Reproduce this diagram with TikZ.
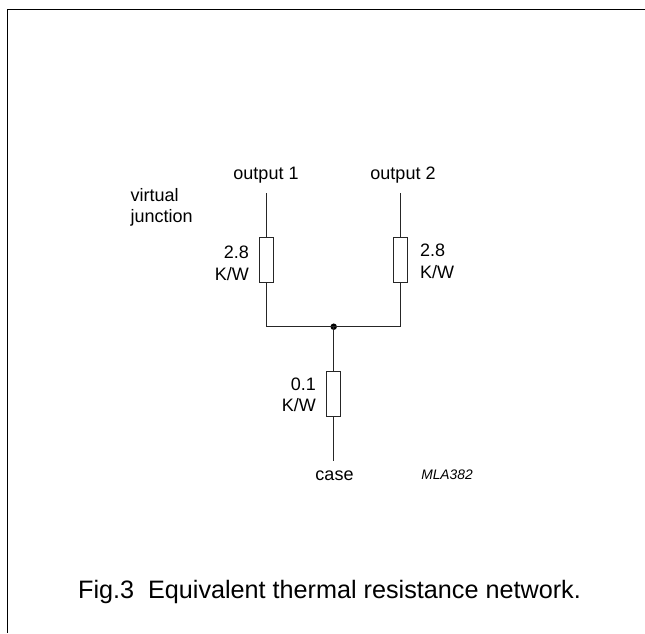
\documentclass[tikz,border=0pt]{standalone}
\usepackage{fontspec}
\setmainfont{Liberation Sans}
\tikzset{
  x=1pt,y=-1pt,
  wire/.style={line width=1.1pt,black!85},
  frameline/.style={line width=1.6pt,black},
  res/.style={draw=black!85,fill=white,line width=1.1pt,minimum width=14pt,minimum height=45pt,inner sep=0pt,outer sep=0pt},
  lab/.style={font=\fontsize{18}{21.5}\selectfont,inner sep=0pt,text=black},
  dotnode/.style={circle,fill=black,minimum size=6.5pt,inner sep=0pt,outer sep=0pt},
}
\begin{document}
\begin{tikzpicture}
\useasboundingbox (0,0) rectangle (645,633);
\coordinate (fa) at (645,9.5);
\coordinate (fb) at (7.5,9.5);
\coordinate (fc) at (7.5,633);
\draw[frameline] (fa) -- (fb) -- (fc);
\node[res] (r1) at (266.7,260) {};
\node[res] (r2) at (400.7,260) {};
\node[res] (r3) at (333.7,394.2) {};
\node[dotnode] (j) at (333.7,326.7) {};
\coordinate (t1) at (266.7,193);
\coordinate (t2) at (400.7,193);
\coordinate (b3) at (333.7,460.7);
\draw[wire] (t1) -- (r1.north);
\draw[wire] (t2) -- (r2.north);
\draw[wire] (r1.south) |- (j.center);
\draw[wire] (r2.south) |- (j.center);
\draw[wire] (j.center) -- (r3.north);
\draw[wire] (r3.south) -- (b3);
\node[lab] (o1) at (266,175) {output 1};
\node[lab] (o2) at (403,175) {output 2};
\node[lab,anchor=west,align=left] (vj) at (130.5,207.5) {virtual\\junction};
\node[lab,anchor=east,align=right] (l1) at (249,263.5) {2.8\\K/W};
\node[lab,anchor=west,align=left] (l2) at (420,261.5) {2.8\\K/W};
\node[lab,anchor=east,align=right] (l3) at (316,395) {0.1\\K/W};
\node[lab] (cs) at (334.5,475.5) {case};
\node[font=\fontsize{13.8}{16}\selectfont\itshape,inner sep=0pt,text=black] (mla) at (447,475) {MLA382};
\node[font=\fontsize{25.2}{30}\selectfont,inner sep=0pt,anchor=west] (cap) at (78,591.5) {Fig.3\hspace{0.55em}Equivalent thermal resistance network.};
\end{tikzpicture}
\end{document}
